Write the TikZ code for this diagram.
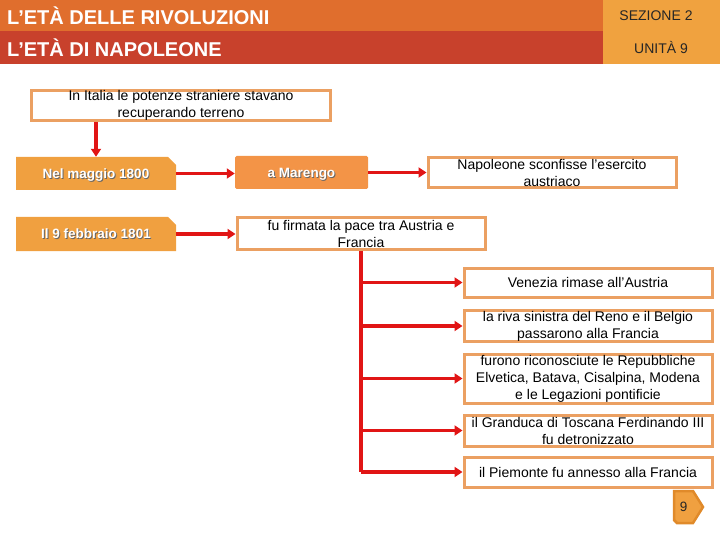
\documentclass[tikz,border=0pt]{standalone}
\usepackage{fontspec}
\setmainfont{Liberation Sans}
\usetikzlibrary{arrows.meta,shapes.misc}
\definecolor{headtop}{HTML}{E06E2D}
\definecolor{headbot}{HTML}{C8412C}
\definecolor{headside}{HTML}{F0A23F}
\definecolor{boxborder}{HTML}{EBA062}
\definecolor{obox}{HTML}{F0A040}
\definecolor{obox2}{HTML}{F39447}
\definecolor{redarr}{HTML}{E11515}
\definecolor{pgborder}{HTML}{E08A2A}
\newcommand\shtxt[1]{\leavevmode\rlap{\kern0.9pt\raisebox{-0.9pt}[0pt][0pt]{\textcolor{black!60}{#1}}}#1}
\begin{document}
\begin{tikzpicture}[x=1pt,y=-1pt,
  hdr/.style={anchor=west, text=white, font=\fontsize{20}{22}\selectfont\bfseries, inner sep=0pt},
  side/.style={text=black!85, font=\fontsize{14}{16}\selectfont, inner sep=0pt},
  wbox/.style={draw=boxborder, line width=3pt, fill=white, inner sep=0pt, align=center,
    font=\fontsize{14}{17}\selectfont},
  obx/.style={fill=obox, chamfered rectangle, chamfered rectangle corners=north east,
    chamfered rectangle xsep=4pt, chamfered rectangle ysep=4pt, inner sep=0pt,
    text height=10pt, text depth=0pt,
    text=white, font=\fontsize{13.5}{16}\selectfont\bfseries},
  mbx/.style={fill=obox2, rounded corners=1.5pt, inner sep=0pt,
    text height=10pt, text depth=0pt,
    text=white, font=\fontsize{13.5}{16}\selectfont\bfseries},
  arr/.style={draw=redarr, line width=3.5pt, -{Triangle[length=8pt,width=10pt]}},
  redline/.style={draw=redarr, line width=3.5pt}
]
\useasboundingbox (0,0) rectangle (720,540);
\fill[headtop] (0,0) rectangle (603,31);
\fill[headbot] (0,31) rectangle (603,64);
\fill[headside] (603,0) rectangle (720,64);
\node[hdr] (t1) at (7,16) {L’ETÀ DELLE RIVOLUZIONI};
\node[hdr] (t2) at (7,48) {L’ETÀ DI NAPOLEONE};
\node[side] (s1) at (656,16) {SEZIONE 2};
\node[side] (s2) at (661,48) {UNITÀ 9};

\node[wbox, minimum width=299pt, minimum height=30pt] (top) at (181,105.5)
  {In Italia le potenze straniere stavano\\recuperando terreno};
\node[obx, minimum width=160pt, minimum height=33pt] (nel) at (96,173.5) {\shtxt{Nel maggio 1800}};
\node[mbx, minimum width=133pt, minimum height=33pt] (mar) at (301.5,172.5) {\shtxt{a Marengo}};
\node[wbox, minimum width=248pt, minimum height=30pt] (nap) at (552,173)
  {Napoleone sconfisse l'esercito\\austriaco};
\node[obx, minimum width=160pt, minimum height=34pt] (il9) at (96,234) {\shtxt{Il 9 febbraio 1801}};
\node[wbox, minimum width=248pt, minimum height=31pt] (pace) at (361,233.5)
  {fu firmata la pace tra Austria e\\Francia};

\node[wbox, minimum width=248pt, minimum height=29pt] (b1) at (588,282.5) {Venezia rimase all'Austria};
\node[wbox, minimum width=248pt, minimum height=30pt] (b2) at (588,326)
  {la riva sinistra del Reno e il Belgio\\passarono alla Francia};
\node[wbox, minimum width=248pt, minimum height=49pt] (b3) at (588,378.5)
  {furono riconosciute le Repubbliche\\Elvetica, Batava, Cisalpina, Modena\\e le Legazioni pontificie};
\node[wbox, minimum width=248pt, minimum height=31pt] (b4) at (588,430.5)
  {il Granduca di Toscana Ferdinando III\\fu detronizzato};
\node[wbox, minimum width=248pt, minimum height=30pt] (b5) at (588,472)
  {il Piemonte fu annesso alla Francia};

% page marker
\filldraw[fill=obox, draw=pgborder, line width=2.5pt, line join=miter]
  (674,491) -- (693,491) -- (703,507) -- (693,523) -- (677,523) -- (674,520) -- cycle;
\node[font=\fontsize{13.5}{15}\selectfont, text=black!85, inner sep=0pt] (pg) at (683.5,507) {9};

\draw[arr] (top.south -| nel.north) -- (nel.north);
\draw[arr] (nel.east) -- (nel.east -| mar.west);
\draw[arr] (mar.east) -- (mar.east -| nap.west);
\draw[arr] (il9.east) -- (il9.east -| pace.west);
\draw[redline] (pace.south) -- (pace.south |- b5.west);
\draw[arr] (pace.south |- b1.west) -- (b1.west);
\draw[arr] (pace.south |- b2.west) -- (b2.west);
\draw[arr] (pace.south |- b3.west) -- (b3.west);
\draw[arr] (pace.south |- b4.west) -- (b4.west);
\draw[arr] (pace.south |- b5.west) -- (b5.west);
\end{tikzpicture}
\end{document}
